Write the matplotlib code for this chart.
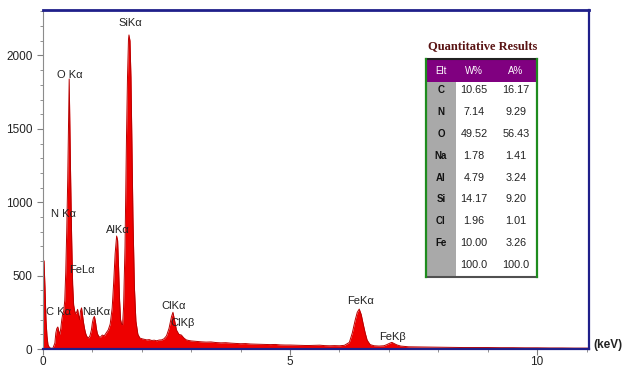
import matplotlib
matplotlib.use("Agg")
import matplotlib.pyplot as plt
import matplotlib.ticker as mticker
from matplotlib.patches import Rectangle

plt.rcParams["font.family"] = ["Liberation Sans", "DejaVu Sans"]

# spectrum (energy in keV, counts)
energy_kev = [
    0.00, 0.02, 0.04, 0.06, 0.08, 0.10, 0.13, 0.16, 0.20, 0.24, 0.26, 0.28,
    0.30, 0.32, 0.34, 0.36, 0.38, 0.40, 0.42, 0.44, 0.46, 0.48, 0.50, 0.52,
    0.53, 0.54, 0.56, 0.58, 0.60, 0.62, 0.64, 0.66, 0.68, 0.70, 0.72, 0.74,
    0.76, 0.78, 0.80, 0.82, 0.84, 0.86, 0.88, 0.90, 0.92, 0.95, 0.98, 1.00,
    1.02, 1.04, 1.06, 1.08, 1.10, 1.13, 1.16, 1.20, 1.24, 1.28, 1.32, 1.36,
    1.40, 1.43, 1.46, 1.49, 1.51, 1.53, 1.55, 1.57, 1.59, 1.61, 1.63, 1.66,
    1.69, 1.71, 1.73, 1.74, 1.76, 1.78, 1.80, 1.82, 1.85, 1.88, 1.92, 1.96,
    2.00, 2.05, 2.10, 2.15, 2.20, 2.25, 2.30, 2.35, 2.40, 2.45, 2.50, 2.55,
    2.60, 2.63, 2.66, 2.70, 2.75, 2.80, 2.85, 2.90, 2.95, 3.00, 3.10, 3.20,
    3.30, 3.40, 3.50, 3.60, 3.70, 3.80, 3.90, 4.00, 4.10, 4.20, 4.30, 4.40,
    4.50, 4.60, 4.70, 4.80, 4.90, 5.00, 5.10, 5.20, 5.30, 5.40, 5.50, 5.60,
    5.70, 5.80, 5.90, 6.00, 6.10, 6.20, 6.26, 6.32, 6.36, 6.40, 6.44, 6.48,
    6.52, 6.56, 6.62, 6.70, 6.80, 6.90, 6.96, 7.02, 7.06, 7.10, 7.16, 7.24,
    7.40, 7.60, 7.80, 8.00, 8.25, 8.50, 8.75, 9.00, 9.25, 9.50, 9.75, 10.00,
    10.25, 10.50, 10.75, 11.05,
]
counts = [
    610, 600, 420, 200, 90, 30, 10, 5, 5, 40, 110, 140,
    150, 120, 100, 140, 200, 240, 260, 330, 520, 800, 1150, 1600,
    1840, 1600, 1150, 750, 440, 300, 260, 240, 250, 270, 230, 200,
    260, 280, 230, 180, 140, 110, 90, 80, 75, 90, 130, 180,
    210, 222, 190, 140, 105, 85, 80, 95, 90, 110, 130, 170,
    280, 450, 650, 770, 740, 550, 330, 200, 170, 165, 280, 700,
    1450, 1850, 2110, 2140, 2100, 1850, 1400, 900, 420, 190, 100, 75,
    70, 66, 62, 64, 58, 60, 56, 61, 62, 70, 90, 140,
    220, 250, 200, 130, 100, 95, 75, 62, 58, 55, 52, 49,
    47, 48, 44, 42, 43, 40, 38, 36, 37, 34, 33, 32,
    31, 30, 31, 28, 27, 27, 26, 25, 24, 24, 25, 26,
    23, 22, 23, 22, 25, 45, 110, 200, 250, 272, 235, 170,
    110, 60, 30, 22, 20, 22, 30, 40, 45, 38, 28, 20,
    15, 14, 13, 12, 11, 10, 10, 10, 9, 9, 8, 8,
    7, 7, 6, 6,
]

peak_labels = ["SiK\u03b1", "O K\u03b1", "N K\u03b1", "FeL\u03b1", "C K\u03b1", "NaK\u03b1",
               "AlK\u03b1", "ClK\u03b1", "ClK\u03b2", "FeK\u03b1", "FeK\u03b2"]
peak_label_kev = [1.76, 0.55, 0.42, 0.78, 0.32, 1.08, 1.52, 2.65, 2.83, 6.42, 7.07]
peak_label_counts = [2220, 1870, 920, 540, 250, 250, 810, 290, 180, 325, 85]

table_title = "Quantitative Results"
table_header = ["Elt", "W%", "A%"]
elements = ["C", "N", "O", "Na", "Al", "Si", "Cl", "Fe", ""]
weight_pct = ["10.65", "7.14", "49.52", "1.78", "4.79", "14.17", "1.96", "10.00", "100.0"]
atomic_pct = ["16.17", "9.29", "56.43", "1.41", "3.24", "9.20", "1.01", "3.26", "100.0"]

W, H = 629, 367
fig = plt.figure(figsize=(W / 100, H / 100), dpi=100)
ax = fig.add_axes([43 / W, 1 - 349 / H, (589 - 43) / W, (349 - 10) / H])

ax.fill_between(energy_kev, counts, 0, color="#ee0000", lw=0)
ax.plot(energy_kev, counts, color="#b80000", lw=0.7)

ax.set_xlim(0, 11.05)
ax.set_ylim(0, 2310)
ax.xaxis.set_major_locator(mticker.MultipleLocator(5))
ax.xaxis.set_minor_locator(mticker.MultipleLocator(1))
ax.yaxis.set_major_locator(mticker.MultipleLocator(500))
ax.yaxis.set_minor_locator(mticker.MultipleLocator(100))
ax.tick_params(axis="both", which="both", direction="out", color="#808080",
               labelsize=8.5, labelcolor="#222222")
ax.tick_params(which="major", length=4)
ax.tick_params(which="minor", length=2)
ax.tick_params(axis="x", pad=1)

navy = "#1f1f8a"
ax.spines["left"].set_color("#8c8c8c")
ax.spines["bottom"].set_color(navy)
ax.spines["bottom"].set_linewidth(1.6)
ax.spines["top"].set_color(navy)
ax.spines["top"].set_linewidth(2)
ax.spines["right"].set_color(navy)
ax.spines["right"].set_linewidth(1.6)

for text, x, y in zip(peak_labels, peak_label_kev, peak_label_counts):
    ax.text(x, y, text, ha="center", va="center", fontsize=8, color="#222222")

fig.text(593 / W, 1 - 345 / H, "(keV)", ha="left", va="center",
         fontsize=8.5, fontweight="bold", color="#222222")

# results table drawn in figure pixels
def fx(px):
    return px / W


def fy(py):
    return 1 - py / H


left, right, top, head_bottom, bottom = 426, 537, 59, 82, 277
col1 = 456
fig.text(fx(483), fy(46), table_title, ha="center", va="center", fontsize=9,
         fontweight="bold", family=["Liberation Serif", "DejaVu Serif"], color="#5a1414")
fig.add_artist(Rectangle((fx(left), fy(head_bottom)), fx(right) - fx(left),
                         fy(top) - fy(head_bottom), transform=fig.transFigure,
                         facecolor="#800080", edgecolor="none"))
fig.add_artist(Rectangle((fx(left), fy(bottom)), fx(col1) - fx(left),
                         fy(head_bottom) - fy(bottom), transform=fig.transFigure,
                         facecolor="#a9a9a9", edgecolor="none"))
fig.add_artist(Rectangle((fx(col1), fy(bottom)), fx(right) - fx(col1),
                         fy(head_bottom) - fy(bottom), transform=fig.transFigure,
                         facecolor="white", edgecolor="none"))
fig.add_artist(plt.Line2D([fx(left), fx(right)], [fy(top), fy(top)],
                          transform=fig.transFigure, color="#202020", lw=1.5))
fig.add_artist(plt.Line2D([fx(left), fx(right)], [fy(bottom), fy(bottom)],
                          transform=fig.transFigure, color="#505050", lw=1.5))
for xe in (left, right):
    fig.add_artist(plt.Line2D([fx(xe), fx(xe)], [fy(top), fy(bottom)],
                              transform=fig.transFigure, color="#1e8c1e", lw=1.6))

col_x = [441, 474, 516]
for cx, h in zip(col_x, table_header):
    fig.text(fx(cx), fy(70.5), h, ha="center", va="center", fontsize=7, color="white")
for i, (el, w, a) in enumerate(zip(elements, weight_pct, atomic_pct)):
    yy = fy(90 + i * 21.9)
    fig.text(fx(col_x[0]), yy, el, ha="center", va="center", fontsize=7,
             fontweight="bold", color="#111111")
    fig.text(fx(col_x[1]), yy, w, ha="center", va="center", fontsize=7.8, color="#222222")
    fig.text(fx(col_x[2]), yy, a, ha="center", va="center", fontsize=7.8, color="#222222")

fig.savefig("out.png", dpi=100)
